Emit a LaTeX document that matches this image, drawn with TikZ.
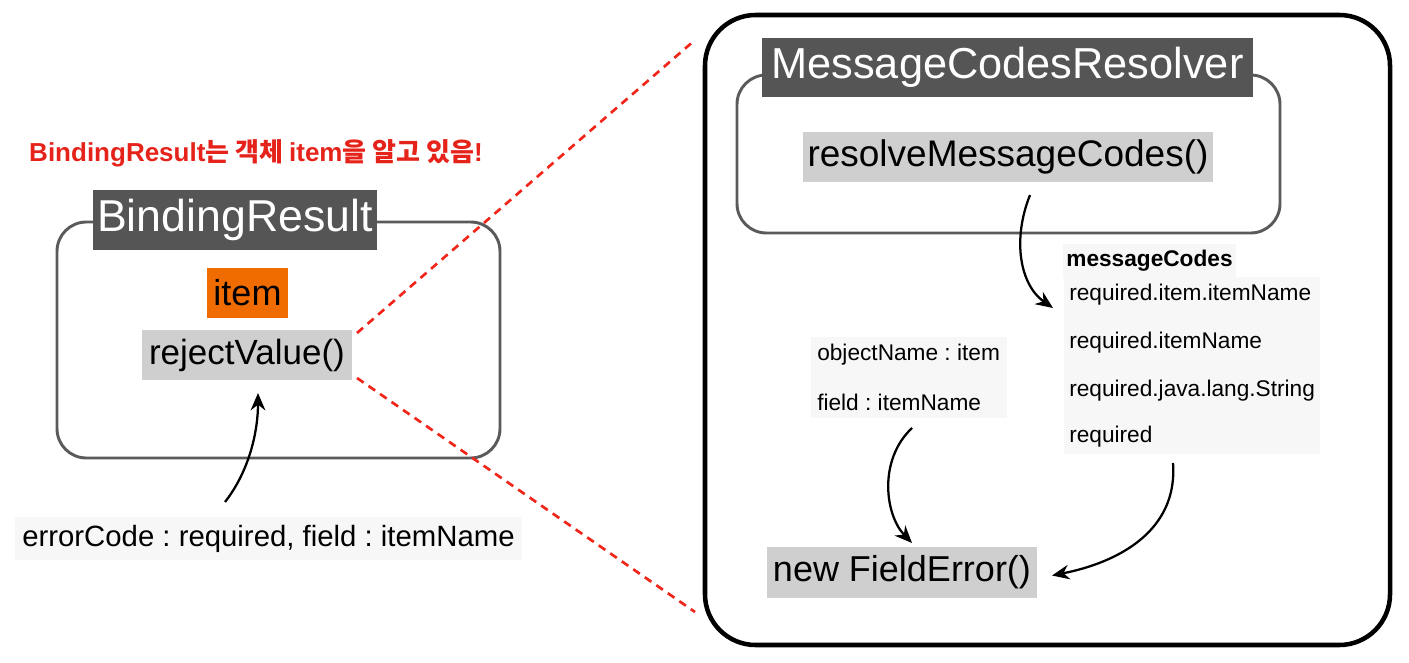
\documentclass[tikz,border=0pt]{standalone}
\usepackage{fontspec}
\setmainfont{Liberation Sans}
\newfontfamily\cjk{Noto Sans CJK KR}
\usetikzlibrary{arrows.meta}
\frenchspacing
\newcommand{\myfs}[1]{\fontsize{#1}{#1}\selectfont}
\definecolor{darkbox}{HTML}{555555}
\definecolor{lightbox}{HTML}{CFCFCF}
\definecolor{paper}{HTML}{F7F7F7}
\definecolor{orangebox}{HTML}{F06B00}
\definecolor{warnred}{HTML}{E5231B}
\definecolor{dashred}{HTML}{F0261B}
\definecolor{framegray}{HTML}{5A5A5A}
\tikzset{
  box/.style={inner sep=0pt, outer sep=0pt, anchor=center},
  titlebox/.style={box, fill=darkbox, text=white},
  callbox/.style={box, fill=lightbox, text=black},
  notebox/.style={box, fill=paper, text=black},
  container/.style={box, draw=framegray, line width=2.2pt, rounded corners=22pt},
  outerframe/.style={box, draw=black, line width=3.4pt, rounded corners=38pt},
  codeline/.style={inner sep=0pt, anchor=west, font=\myfs{17pt}},
  flow/.style={draw=black, line width=1.7pt, -{Stealth[length=13pt, width=11pt]}},
  reddash/.style={draw=dashred, line width=2pt, dash pattern=on 6pt off 4.5pt}
}
\begin{document}
\begin{tikzpicture}[x=0.75pt, y=-0.75pt]
\useasboundingbox (0,0) rectangle (1409,663);

% left part
\node[box, text=warnred, font=\myfs{19.5pt}] (warn) at (256,153)
  {\bfseries BindingResult{\cjk\bfseries 는 객체 }item{\cjk\bfseries 을 알고 있음}!};
\node[container, minimum width=443*0.75pt, minimum height=236*0.75pt] (brbox) at (278.5,340) {};
\node[titlebox, minimum width=284*0.75pt, minimum height=60*0.75pt, font=\myfs{33.5pt}] (brtitle) at (235,220) {BindingResult};
\node[box, fill=orangebox, minimum width=81*0.75pt, minimum height=50*0.75pt, font=\myfs{27pt}] (item) at (247.5,293) {item};
\node[callbox, minimum width=210*0.75pt, minimum height=50*0.75pt, font=\myfs{26.25pt}] (reject) at (247,355) {rejectValue()};
\node[notebox, minimum width=507*0.75pt, minimum height=43*0.75pt, font=\myfs{22pt}] (err) at (268.5,538.5) {errorCode : required, field : itemName};

\draw[flow] ([shift={(-43.5,-15)}]err.north) .. controls (250,470) and (258,430) .. ([shift={(11,13)}]reject.south);

% right part
\node[outerframe, minimum width=685*0.75pt, minimum height=630*0.75pt] (outer) at (1047.5,330) {};
\node[container, minimum width=543*0.75pt, minimum height=158*0.75pt] (mcr) at (1008.5,154) {};
\node[titlebox, minimum width=491*0.75pt, minimum height=59*0.75pt, font=\myfs{32.5pt}] (mcrtitle) at (1007.5,67.5) {MessageCodesResolver};
\node[callbox, minimum width=410*0.75pt, minimum height=50*0.75pt, font=\myfs{27.75pt}] (resolve) at (1008,157) {resolveMessageCodes()};

\node[notebox, minimum width=173*0.75pt, minimum height=34*0.75pt, font=\myfs{17pt}\bfseries] (mclabel) at (1149.5,261) {messageCodes};
\node[notebox, minimum width=256*0.75pt, minimum height=177*0.75pt] (codes) at (1192,365.5) {};
\node[codeline] (c1) at (1069,295) {required.item.itemName};
\node[codeline] (c2) at (1069,343) {required.itemName};
\node[codeline] (c3) at (1069,391) {required.java.lang.String};
\node[codeline] (c4) at (1069,437) {required};

\node[notebox, minimum width=196*0.75pt, minimum height=81*0.75pt] (obj) at (909,377.5) {};
\node[codeline] (o1) at (817,355) {objectName : item};
\node[codeline] (o2) at (817,402) {field : itemName};

\node[callbox, minimum width=270*0.75pt, minimum height=51*0.75pt, font=\myfs{27pt}] (fe) at (902,572.5) {new FieldError()};

\draw[flow] ([shift={(22,13)}]resolve.south) .. controls (1012,240) and (1020,285) .. ([shift={(-11,31)}]codes.north west);
\draw[flow] ([shift={(3,10)}]obj.south) .. controls (878,460) and (885,515) .. ([shift={(10,-4)}]fe.north);
\draw[flow] ([shift={(-19,9)}]codes.south) .. controls (1178,530) and (1120,562) .. ([shift={(15,3)}]fe.east);

% dashed zoom lines
\coordinate (d1) at (695,40);
\coordinate (d2) at (695,612);
\draw[reddash] ([shift={(5,3)}]reject.north east) -- (d1);
\draw[reddash] ([shift={(5,-2)}]reject.south east) -- (d2);
\end{tikzpicture}
\end{document}
